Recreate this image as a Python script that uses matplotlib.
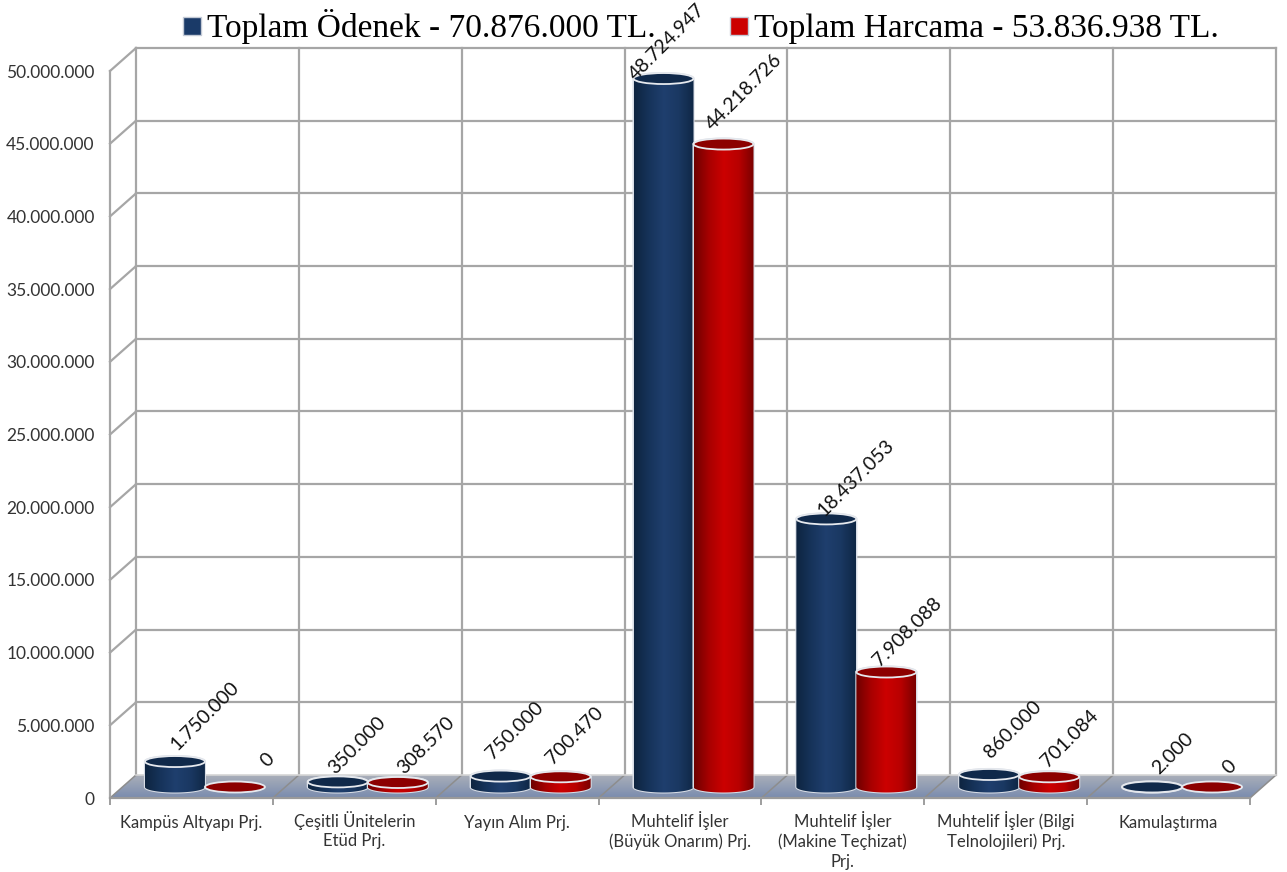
import numpy as np
import matplotlib
matplotlib.use('Agg')
import matplotlib.pyplot as plt
from matplotlib.colors import LinearSegmentedColormap
from matplotlib.patches import Ellipse, Polygon
from matplotlib.path import Path
from matplotlib.lines import Line2D
from matplotlib.transforms import ScaledTranslation

plt.rcParams['font.family'] = ['Lato', 'DejaVu Sans']

categories = ['Kampüs Altyapı Prj.', 'Çeşitli Ünitelerin\nEtüd Prj.', 'Yayın Alım Prj.',
              'Muhtelif İşler\n(Büyük Onarım) Prj.', 'Muhtelif İşler\n(Makine Teçhizat)\nPrj.',
              'Muhtelif İşler (Bilgi\nTelnolojileri) Prj.', 'Kamulaştırma']
odenek = [1750000, 350000, 750000, 48724947, 18437053, 860000, 2000]
harcama = [0, 308570, 700470, 44218726, 7908088, 701084, 0]
y_ticks = np.arange(0, 50000001, 5000000)
legend_labels = ['Toplam Ödenek - 70.876.000 TL.', 'Toplam Harcama - 53.836.938 TL.']

W, H = 1287, 872
LEFT, RIGHT, BOTTOM, TOP = 110, 1250, 798, 71
px_x = (RIGHT - LEFT) / 7
px_y = (BOTTOM - TOP) / 50000000


def fmt(v):
    return f'{v:,}'.replace(',', '.')


fig = plt.figure(figsize=(W / 100, H / 100), dpi=100)
ax = fig.add_axes([LEFT / W, 1 - BOTTOM / H, (RIGHT - LEFT) / W, (BOTTOM - TOP) / H])
ax.set_xlim(0, 7)
ax.set_ylim(0, 50000000)
ax.autoscale(False)

# depth of the fake 3d box, in data units
dx = 26 / px_x
dy = 23 / px_y
grid = '#a6a6a6'

# floor
floor = Path([(0, 0), (7, 0), (7 + dx, dy), (dx, dy), (0, 0)])
floor_cmap = LinearSegmentedColormap.from_list('floor', ['#7a8cae', '#a9aeb9'])
im = ax.imshow(np.linspace(0, 1, 64).reshape(-1, 1), extent=(0, 7 + dx, dy, 0), aspect='auto',
               cmap=floor_cmap, zorder=1)
im.set_clip_path(floor, ax.transData)
im.set_clip_box(fig.bbox)

# walls
for t in y_ticks:
    if t > 0:
        ax.plot([dx, 7 + dx], [t + dy, t + dy], color=grid, lw=1.6, clip_on=False, zorder=2)
        ax.plot([0, dx], [t, t + dy], color=grid, lw=1.6, clip_on=False, zorder=2)
for i in range(8):
    ax.plot([i + dx, i + dx], [dy, 50000000 + dy], color=grid, lw=1.6, clip_on=False, zorder=2)
    ax.plot([i, i + dx], [0, dy], color='#8d8d8d', lw=1.1, clip_on=False, zorder=2)
ax.plot([dx, 7 + dx], [dy, dy], color='#d5d5d5', lw=1.2, clip_on=False, zorder=2)

blue_cmap = LinearSegmentedColormap.from_list('b', ['#0e2440', '#16335a', '#1f3f6e', '#1a3862', '#0f2745'])
red_cmap = LinearSegmentedColormap.from_list('r', ['#6e0000', '#a80000', '#cc0000', '#b80000', '#7a0000'])

bar_w = 60 / px_x
disc_h = 11 / px_y
base = 11 / px_y
shift = 13.5 / px_x


def cylinder(xc, val, cmap, top_color):
    t = np.linspace(0, np.pi, 60)
    xs = xc + bar_w / 2 * np.cos(t)
    up = base + val + disc_h / 2 * np.sin(t)
    low = base - disc_h / 2 * np.sin(t)
    if val > 0:
        verts = np.vstack([np.column_stack([xs, up]), np.column_stack([xs[::-1], low[::-1]])])
        ax.add_patch(Polygon(verts, closed=True, fc='none', ec='#d8dde6', lw=1.5, clip_on=False, zorder=3))
        body = ax.imshow(np.linspace(0, 1, 128).reshape(1, -1), aspect='auto', cmap=cmap,
                         extent=(xc - bar_w / 2, xc + bar_w / 2, base - disc_h, base + val + disc_h),
                         zorder=3)
        body.set_clip_path(Path(verts, closed=False), ax.transData)
        body.set_clip_box(fig.bbox)
    ax.add_patch(Ellipse((xc, base + val), bar_w, disc_h, fc=top_color, ec='#e6e9ee', lw=1.3,
                         clip_on=False, zorder=3))


for i in range(7):
    cylinder(i + 0.5 + shift - bar_w / 2, odenek[i], blue_cmap, '#10294a')
    cylinder(i + 0.5 + shift + bar_w / 2, harcama[i], red_cmap, '#8c0000')

# label offsets from the bar top, pixels
off_blue = [(30, 46), (19, 37), (14, 46), (4, 37), (30, 41), (24, 45), (21, 34)]
off_red = [(33, 27), (28, 37), (14, 41), (21, 52), (21, 40), (21, 38), (17, 20)]
for i in range(7):
    for vals, off, sgn in ((odenek, off_blue, -1), (harcama, off_red, 1)):
        xc = i + 0.5 + shift + sgn * bar_w / 2
        ax.annotate(fmt(vals[i]), (xc, base + vals[i]), xytext=off[i], textcoords='offset pixels',
                    rotation=45, ha='center', va='center', fontsize=14, color='#111111',
                    annotation_clip=False, zorder=5)

ax.set_yticks(y_ticks)
ax.set_yticklabels([fmt(int(t)) for t in y_ticks], fontsize=12.5, color='#333333')
ax.tick_params(axis='y', length=0, pad=11)
ax.set_xticks(np.arange(8))
ax.set_xticklabels([])
ax.set_xticks(np.arange(7) + 0.5, labels=categories, minor=True, fontsize=12, color='#333333',
              linespacing=1.3)
ax.tick_params(axis='x', which='major', length=5, width=1.2, color='#8d8d8d')
ax.tick_params(axis='x', which='minor', length=0, pad=12)

# accented first lines sit lower, pull the multi line labels back up
for lbl, c in zip(ax.get_xticklabels(minor=True), categories):
    if '\n' in c:
        lbl.set_transform(lbl.get_transform() + ScaledTranslation(0, 4 / 100, fig.dpi_scale_trans))

for s in ['top', 'right']:
    ax.spines[s].set_visible(False)
ax.spines['left'].set_color(grid)
ax.spines['left'].set_linewidth(1.6)
ax.spines['bottom'].set_color('#9a9a9a')
ax.spines['bottom'].set_linewidth(1.6)

handles = [Line2D([], [], ls='', marker='s', ms=13, mfc=c, mec='#c3cad6', mew=1)
           for c in ('#1a3a68', '#cc0000')]
fig.legend(handles, legend_labels, ncol=2, frameon=False, loc='upper left',
           bbox_to_anchor=(135 / W, 1 + 14 / H), prop={'family': 'Liberation Serif', 'size': 24},
           handletextpad=-0.55, columnspacing=1.5, borderpad=0.2)

fig.savefig('out.png', dpi=100)
